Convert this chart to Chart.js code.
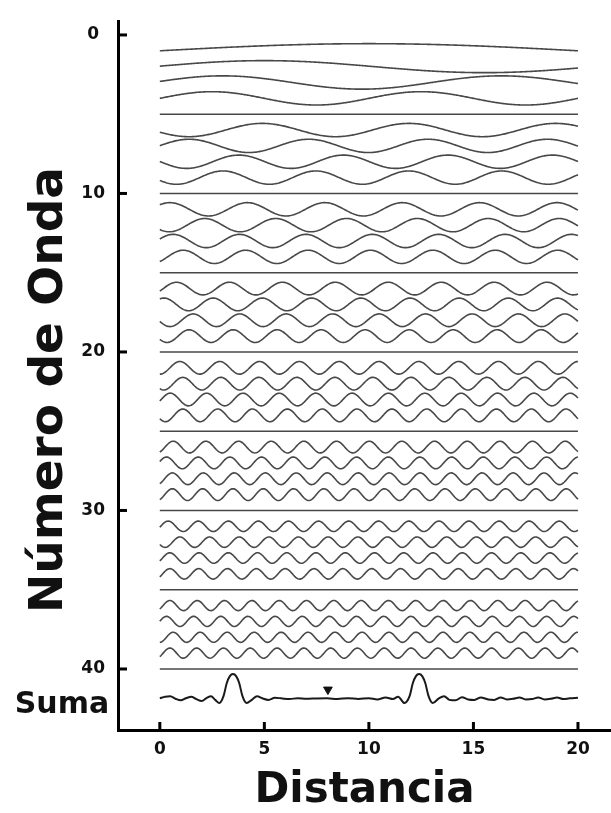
<!DOCTYPE html>
<html>
<head>
<meta charset="utf-8">
<script src="https://cdn.jsdelivr.net/npm/chart.js@4.4.0/dist/chart.umd.min.js"></script>
<style>
  body { margin: 0; background: #fff; }
  #wrap { width: 611px; height: 813px; }
</style>
</head>
<body>
<div id="wrap"><canvas id="myChart" width="611" height="813"></canvas></div>
<script>
// wave number, cycles across 0..20, x of first crest, amplitude
let waveNumbers  = [1, 2, 3, 4, 6, 7, 8, 9, 11, 12, 13, 14, 16, 17, 18, 19, 21, 22, 23, 24, 26, 27, 28, 29, 31, 32, 33, 34, 36, 37, 38, 39];
let waveCycles   = [0.5, 0.95, 1.5, 2, 2.85, 3.5, 4, 4.5, 5.4, 5.9, 6.3, 6.7, 7.9, 8.5, 9, 9.5, 10.5, 11, 11.5, 12, 12.8, 13.2, 13.5, 13.8, 13.9, 14.1, 14.3, 14.5, 15.3, 15.4, 15.5, 15.6];
let waveCrestX   = [10, 5, 3, 2.5, 4.9, 1.4, 3.78, 3.02, 0.48, 2.15, 0.64, 1.12, 0.8, 0.2, 1.6, 1.4, 0.96, 1.1, 0.5, 1.1, 0.64, 0.32, 0.6, 0.6, 0.4, 0.96, 0.48, 0.48, 0.48, 0.32, 0.64, 0.48];
let waveAmp      = [0.45, 0.38, 0.42, 0.42, 0.42, 0.42, 0.42, 0.42, 0.42, 0.42, 0.42, 0.42, 0.4, 0.4, 0.4, 0.4, 0.4, 0.4, 0.4, 0.4, 0.37, 0.37, 0.37, 0.37, 0.33, 0.33, 0.33, 0.33, 0.32, 0.32, 0.32, 0.32];
let flatWaves    = [5, 10, 15, 20, 25, 30, 35, 40];

// the "Suma" trace
let sumX = [0, 0.25, 0.5, 0.75, 1.0, 1.25, 1.5, 1.75, 2.0, 2.25, 2.45, 2.65, 2.85, 3.05, 3.2, 3.35, 3.5, 3.65, 3.8, 3.95, 4.15, 4.4, 4.65, 4.9, 5.2, 5.5, 5.8, 6.2, 6.6, 7.0, 7.5, 8.0, 8.5, 9.0, 9.5, 10.0, 10.4, 10.8, 11.15, 11.4, 11.7, 11.95, 12.1, 12.25, 12.4, 12.55, 12.7, 12.85, 13.05, 13.35, 13.6, 13.85, 14.15, 14.45, 14.75, 15.05, 15.35, 15.7, 16.0, 16.3, 16.6, 16.9, 17.2, 17.5, 17.8, 18.1, 18.4, 18.7, 19.0, 19.3, 19.6, 20];
let sumY = [41.85, 41.75, 41.72, 41.88, 41.98, 41.85, 41.75, 41.9, 42.02, 41.82, 41.72, 41.95, 42.15, 41.7, 40.9, 40.45, 40.32, 40.45, 40.9, 41.7, 42.15, 41.95, 41.72, 41.85, 41.95, 41.82, 41.85, 41.9, 41.84, 41.88, 41.86, 41.85, 41.9, 41.84, 41.9, 41.84, 41.92, 41.8, 41.9, 41.75, 42.15, 41.7, 40.9, 40.45, 40.32, 40.45, 40.9, 41.7, 42.15, 41.85, 41.72, 41.95, 41.98, 41.78, 41.92, 41.95, 41.8, 41.92, 41.95, 41.8, 41.92, 41.88, 41.8, 41.92, 41.9, 41.8, 41.92, 41.88, 41.8, 41.9, 41.85, 41.82];
let markerX = 8.04, markerY = 41.3;

let yTicks = [0, 10, 20, 30, 40];
let xTicks = [0, 5, 10, 15, 20];

const FONT = "'DejaVu Sans', sans-serif";
const INK = '#111';

let datasets = [];
waveNumbers.forEach((n, i) => {
    let pts = [];
    for (let k = 0; k <= 400; k++) {
        let x = k * 0.05;
        pts.push({ x: x, y: n - waveAmp[i] * Math.cos(2 * Math.PI * waveCycles[i] * (x - waveCrestX[i]) / 20) });
    }
    datasets.push({ data: pts, borderColor: '#484848', borderWidth: 1.6, pointRadius: 0, tension: 0 });
});
flatWaves.forEach(n => {
    datasets.push({ data: [{ x: 0, y: n }, { x: 20, y: n }], borderColor: '#484848', borderWidth: 1.6, pointRadius: 0 });
});
datasets.push({
    data: sumX.map((x, i) => ({ x: x, y: sumY[i] })),
    borderColor: '#1a1a1a', borderWidth: 2, pointRadius: 0, cubicInterpolationMode: 'monotone'
});
datasets.push({
    data: [{ x: markerX, y: markerY }], showLine: false,
    pointStyle: 'triangle', rotation: 180, pointRadius: 5,
    pointBackgroundColor: '#111', pointBorderColor: '#111', pointBorderWidth: 1
});

const extras = {
    id: 'extras',
    afterDraw(chart) {
        const ctx = chart.ctx;
        const xs = chart.scales.x, ys = chart.scales.y;
        const a = chart.chartArea;
        ctx.save();
        ctx.strokeStyle = '#000';
        ctx.lineWidth = 3;
        yTicks.forEach(v => {
            let py = ys.getPixelForValue(v);
            ctx.beginPath(); ctx.moveTo(a.left, py); ctx.lineTo(a.left + 9, py); ctx.stroke();
        });
        xTicks.forEach(v => {
            let px = xs.getPixelForValue(v);
            ctx.beginPath(); ctx.moveTo(px, a.bottom); ctx.lineTo(px, a.bottom - 8); ctx.stroke();
        });
        ctx.fillStyle = INK;
        ctx.font = 'bold 30px ' + FONT;
        ctx.textAlign = 'center';
        ctx.textBaseline = 'middle';
        ctx.fillText('Suma', 62, ys.getPixelForValue(42.3));
        ctx.translate(50, 390);
        ctx.rotate(-Math.PI / 2);
        ctx.font = 'bold 47px ' + FONT;
        ctx.fillText('Número de Onda', 0, 0);
        ctx.restore();
    }
};

var ctx = document.getElementById('myChart').getContext('2d');
var waveChart = new Chart(ctx, {
    type: 'line',
    data: { datasets: datasets },
    options: {
        responsive: false,
        animation: false,
        events: [],
        layout: { autoPadding: false, padding: { top: 21, right: 0, left: 0, bottom: 0 } },
        plugins: { legend: { display: false }, tooltip: { enabled: false } },
        scales: {
            x: {
                type: 'linear', min: -2, max: 21.58,
                afterBuildTicks: s => { s.ticks = xTicks.map(v => ({ value: v })); },
                afterFit: s => { s.height = 83; s.paddingLeft = 0; s.paddingRight = 0; },
                grid: { drawOnChartArea: false, drawTicks: false },
                border: { display: true, width: 3, color: '#000' },
                ticks: { padding: 9, color: INK, font: { family: FONT, weight: 'bold', size: 17 } },
                title: { display: true, text: 'Distancia', color: INK, padding: { top: 0, bottom: 1 },
                         font: { family: FONT, weight: 'bold', size: 42, lineHeight: 1 } }
            },
            y: {
                type: 'linear', reverse: true, min: -0.88, max: 43.85,
                afterBuildTicks: s => { s.ticks = yTicks.map(v => ({ value: v })); },
                afterFit: s => { s.width = 118; s.paddingTop = 0; s.paddingBottom = 0; },
                grid: { drawOnChartArea: false, drawTicks: false },
                border: { display: true, width: 3, color: '#000' },
                ticks: { padding: 13, crossAlign: 'center', color: INK, font: { family: FONT, weight: 'bold', size: 17 } }
            }
        }
    },
    plugins: [extras]
});
</script>
</body>
</html>
